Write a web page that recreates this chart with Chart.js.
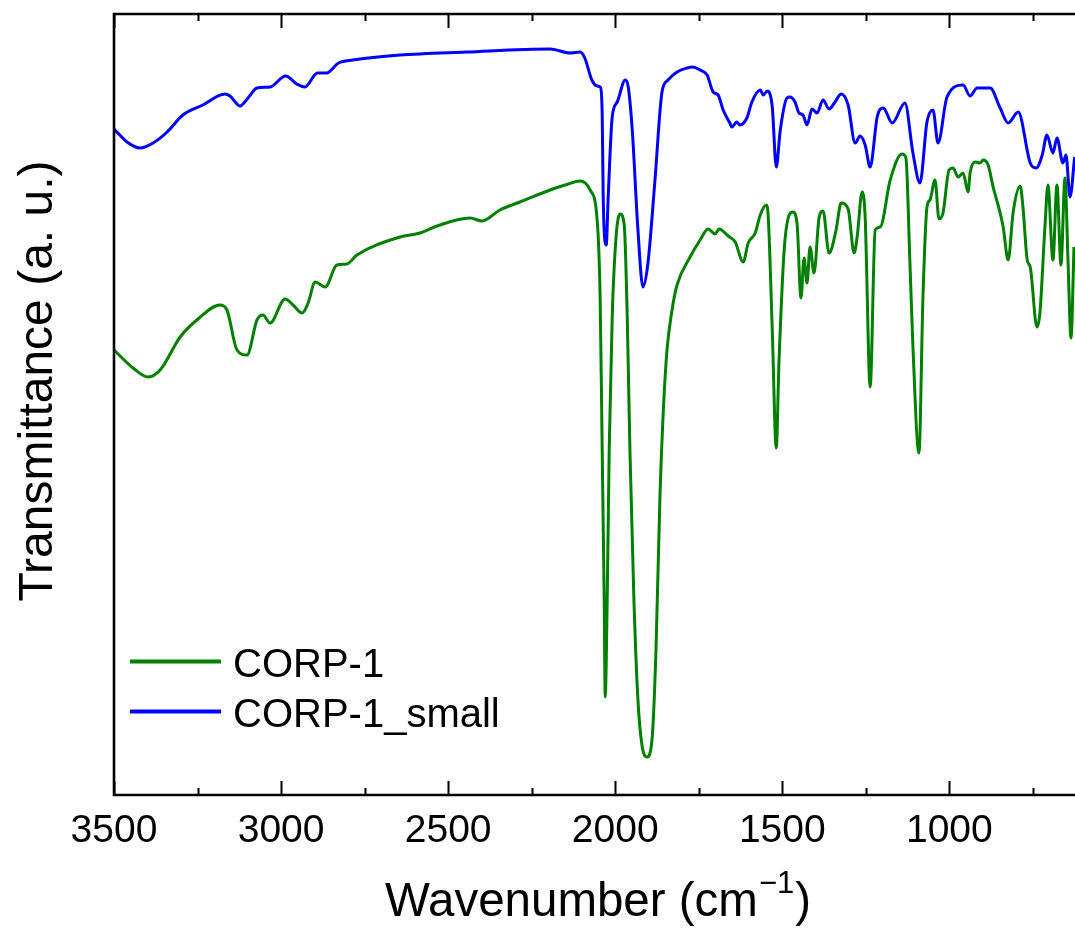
<!DOCTYPE html>
<html><head><meta charset="utf-8">
<script src="https://cdn.jsdelivr.net/npm/chart.js@4.4.0/dist/chart.umd.min.js"></script>
<style>html,body{margin:0;padding:0;background:#fff;overflow:hidden}canvas{display:block}</style>
</head><body>
<canvas id="c" width="1075" height="930"></canvas>
<script>
const seriesNames = ['CORP-1', 'CORP-1_small'];
const seriesColors = ['#008000', '#0000ff'];

const greenWn = [3500,3443,3398,3362,3302,3252,3183,3162,3132,3102,
3072,3054,3033,2988,2964,2937,2919,2898,2868,2833,
2803,2773,2644,2584,2533,2434,2399,2345,2285,2195,
2150,2105,2075,2054,2045,2039,2033,2030,2024,2018,
2009,1997,1985,1973,1964,1956,1944,1932,1920,1905,
1890,1878,1866,1856,1845,1830,1815,1776,1746,1722,1701,
1689,1662,1641,1617,1602,1581,1566,1548,1542,1530,
1518,1510,1492,1468,1456,1444,1435,1426,1417,1405,
1390,1378,1360,1339,1324,1303,1285,1276,1261,1252,
1237,1222,1207,1177,1142,1130,1118,1109,1091,1079,
1067,1058,1043,1031,1019,1001,989,974,959,944,
938,923,908,899,884,869,848,839,824,809,
788,779,767,758,738,729,714,705,690,678,
666,654,645,636,627];
const greenT = [44.5,42.7,41.8,42.5,45.8,47.5,49.0,48.5,44.5,44.0,
47.5,48.0,47.2,49.6,49.0,48.2,49.2,51.3,50.8,53.0,
53.1,54.0,55.8,56.2,56.9,57.7,57.4,58.5,59.3,60.5,
61.0,61.4,60.5,57.5,49.5,34.5,19.5,9.8,19.5,34.5,
47.8,56.0,58.1,57.0,47.8,34.5,19.5,9.5,5.0,3.8,
5.5,14.5,30.0,38.5,44.5,48.5,51.0,53.8,55.5,56.6,56.1,
56.6,55.9,55.3,53.3,55.2,56.2,58.0,59.0,57.8,46.5,
34.7,43.2,55.5,58.3,57.2,49.7,53.7,51.2,54.8,52.2,
57.7,58.4,54.2,56.5,59.2,58.6,54.2,55.8,60.3,57.8,
40.8,56.5,56.8,61.5,64.1,63.7,53.2,44.8,34.2,49.8,
58.8,59.5,61.5,57.6,58.2,62.5,62.7,61.8,62.2,60.3,
62.2,63.3,63.2,63.5,63.0,60.8,58.2,56.8,53.5,58.3,
60.9,58.5,53.5,52.8,46.8,48.2,56.8,61.0,53.5,61.0,
53.0,61.7,53.5,45.7,54.8];

const blueWn = [3500,3461,3422,3383,3341,3294,3234,3168,3153,3123,
3099,3072,3033,2986,2953,2929,2891,2864,2828,2786,
2644,2446,2195,2135,2105,2091,2070,2054,2045,2039,
2036,2027,2021,2009,1994,1970,1961,1949,1932,1917,
1902,1881,1860,1842,1815,1785,1768,1746,1725,1707,
1692,1677,1657,1651,1636,1627,1606,1591,1566,1557,
1545,1530,1518,1506,1486,1477,1462,1450,1438,1426,
1411,1396,1378,1360,1342,1324,1303,1282,1267,1252,
1237,1216,1198,1171,1133,1109,1088,1067,1049,1034,
1007,959,938,917,878,848,824,794,758,740,
722,708,690,678,660,651,639,625];
const blueT = [66.6,65.3,64.7,65.2,66.3,68.0,69.0,70.1,69.9,68.9,
69.7,70.7,70.8,71.9,71.1,70.8,72.2,72.2,73.2,73.5,
74.0,74.3,74.6,74.2,74.3,73.7,71.5,70.9,70.8,68.2,
59.8,55.0,59.8,67.8,69.3,71.5,70.8,66.5,56.5,50.8,
53.2,61.5,70.3,71.5,72.3,72.7,72.8,72.5,72.0,70.3,
70.0,68.5,67.2,66.8,67.3,67.0,67.7,69.3,70.5,70.0,
70.4,68.8,62.8,66.5,69.7,69.8,69.3,68.2,68.0,67.0,
68.6,68.2,69.5,68.6,69.3,70.1,69.0,65.2,65.9,65.0,
62.8,67.8,68.7,67.2,69.2,64.2,61.2,67.3,68.5,65.2,
69.8,71.0,69.9,70.7,70.7,68.7,67.2,68.3,63.2,62.7,
64.0,66.0,64.2,65.7,63.2,64.0,59.8,63.8];

const xMajorTicks = [3500,3000,2500,2000,1500,1000];
const xMinorTicks = [3250,2750,2250,1750,1250,750];
const xTitle = 'Wavenumber (cm';
const xTitleSup = '\u22121';
const yTitle = 'Transmittance (a. u.)';

const FAM = "'Liberation Sans', Arial, Helvetica, sans-serif";

const decor = {
  id: 'decor',
  afterDraw(chart) {
    const {ctx, chartArea: a, scales: {x}} = chart;
    ctx.save();
    ctx.strokeStyle = '#000';
    ctx.lineCap = 'butt';
    ctx.lineWidth = 2.6;
    ctx.beginPath();
    ctx.moveTo(a.right + 3, a.top);
    ctx.lineTo(a.left, a.top);
    ctx.lineTo(a.left, a.bottom);
    ctx.lineTo(a.right + 3, a.bottom);
    ctx.stroke();
    ctx.lineWidth = 2;
    x.ticks.forEach(t => {
      const major = xMajorTicks.includes(t.value);
      const len = major ? 14 : 7;
      const px = Math.round(x.getPixelForValue(t.value)) + 0.5;
      ctx.beginPath();
      ctx.moveTo(px, a.bottom); ctx.lineTo(px, a.bottom - len);
      ctx.moveTo(px, a.top); ctx.lineTo(px, a.top + len);
      ctx.stroke();
    });
    ctx.fillStyle = '#000';
    ctx.font = '40px ' + FAM;
    ctx.textBaseline = 'alphabetic';
    ctx.textAlign = 'left';
    const ly = [661.5, 711.5];
    chart.data.datasets.forEach((ds, i) => {
      ctx.strokeStyle = ds.borderColor;
      ctx.lineWidth = 4;
      ctx.beginPath();
      ctx.moveTo(130, ly[i]); ctx.lineTo(221, ly[i]);
      ctx.stroke();
      ctx.fillText(ds.label, 233, ly[i] + 15);
    });
    ctx.font = '47.5px ' + FAM;
    const w1 = ctx.measureText(xTitle).width;
    const w3 = ctx.measureText(')').width;
    ctx.font = '31px ' + FAM;
    const w2 = ctx.measureText(xTitleSup).width;
    const cx = 598, by = 916;
    let sx = cx - (w1 + w2 + w3 + 2) / 2;
    ctx.font = '47.5px ' + FAM;
    ctx.fillText(xTitle, sx, by);
    ctx.font = '31px ' + FAM;
    ctx.fillText(xTitleSup, sx + w1 + 1, by - 23);
    ctx.font = '47.5px ' + FAM;
    ctx.fillText(')', sx + w1 + w2 + 2, by);
    ctx.translate(52, 381);
    ctx.rotate(-Math.PI / 2);
    ctx.textAlign = 'center';
    ctx.font = '48px ' + FAM;
    ctx.fillText(yTitle, 0, 0);
    ctx.restore();
  }
};

new Chart(document.getElementById('c'), {
  type: 'line',
  data: {
    datasets: [
      { label: seriesNames[0], data: greenWn.map((w, i) => ({x: w, y: greenT[i]})),
        borderColor: seriesColors[0], borderWidth: 3, pointRadius: 0, fill: false,
        cubicInterpolationMode: 'monotone' },
      { label: seriesNames[1], data: blueWn.map((w, i) => ({x: w, y: blueT[i]})),
        borderColor: seriesColors[1], borderWidth: 3, pointRadius: 0, fill: false,
        cubicInterpolationMode: 'monotone' }
    ]
  },
  options: {
    responsive: false, animation: false, devicePixelRatio: 1,
    layout: { padding: { left: 114, top: 14, right: 0, bottom: 0 } },
    plugins: { legend: { display: false }, tooltip: { enabled: false } },
    scales: {
      x: {
        type: 'linear', reverse: true, min: 624, max: 3500,
        grid: { display: false, drawTicks: false }, border: { display: false },
        afterBuildTicks: s => { s.ticks = xMajorTicks.concat(xMinorTicks).sort((p, q) => q - p).map(v => ({value: v})); },
        ticks: { autoSkip: false, maxRotation: 0, minRotation: 0, padding: 13, color: '#000',
          font: { family: FAM, size: 39, lineHeight: 1.2 },
          callback: v => xMajorTicks.includes(v) ? String(v) : '' },
        afterFit: s => { s.height = 135; }
      },
      y: { display: false, min: 0, max: 78.1 }
    }
  },
  plugins: [decor]
});
</script>
</body></html>
